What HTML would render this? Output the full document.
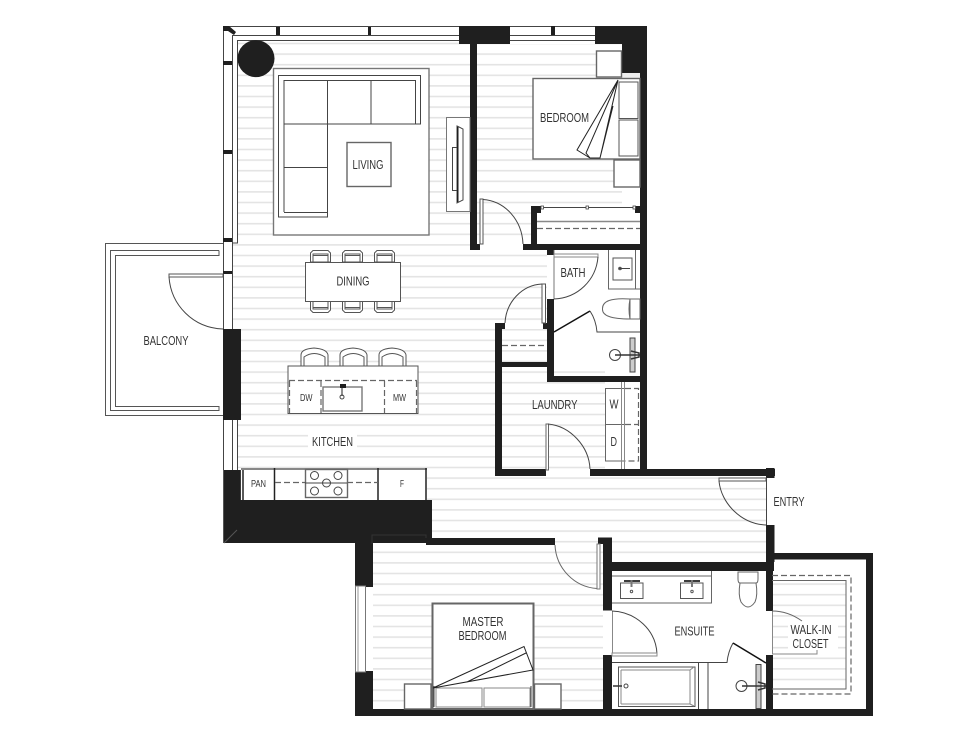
<!DOCTYPE html>
<html><head><meta charset="utf-8"><title>Floor plan</title>
<style>
html,body{margin:0;padding:0;background:#fff;width:978px;height:745px;overflow:hidden}
svg{display:block}
text{font-family:"Liberation Sans Narrow","Liberation Sans",sans-serif;font-size:12.5px;fill:#333;text-anchor:start}
.k{fill:#1f1f1f;stroke:none}
.l{fill:none;stroke:#444;stroke-width:1}
.t{fill:none;stroke:#222;stroke-width:1}
.g{fill:none;stroke:#777;stroke-width:1.5}
.w{fill:#fff;stroke:#555;stroke-width:1}
.wg{fill:#fff;stroke:#777;stroke-width:1.4}
.d{fill:none;stroke:#666;stroke-width:1.2;stroke-dasharray:6 3}
</style></head><body>
<svg width="978" height="745" viewBox="0 0 978 745" xmlns="http://www.w3.org/2000/svg">
<defs>
<pattern id="fl" x="0" y="0" width="978" height="10.6" patternUnits="userSpaceOnUse" patternTransform="translate(0,53.3)">
<rect x="0" y="0" width="978" height="10.6" fill="#fff"/>
<rect x="0" y="0" width="978" height="1.6" fill="#e4e4e4"/>
</pattern>
</defs>
<rect width="978" height="745" fill="#fff"/>
<path fill="url(#fl)" d="M237 41H470V244H477V250H547V323H495V476H766V562H603V545H426V500H427V468H237ZM232 240H237V329H232ZM477 44H622V206H531V244H477ZM502 329H547V362H502ZM502 367H605V470H502ZM373 545H603V709H373ZM772 580H846V689H772Z"/>

<!-- top window -->
<g class="l">
<path d="M223 26.5H459M237 40.5H459M232 35.500H459M510 26.5H595M510 35.5H595M510 40.5H595"/>
<path d="M223.5 26V240M232.5 35V240M237.5 40V243H232M223.5 240V329M232.5 240V329"/>
<path d="M223.5 420V470M232.5 420V470M237.5 420V470"/>
</g>
<path class="k" d="M223 26H229L236 32L234 35L228 31H223Z M276 27H280V35H276Z M368 27H371V35H368Z M551 26H555V35H551Z M223 61H232V65H223Z M223 150H232V154H223Z M223 238H232V242H223Z M223 271H232V274H223Z"/>
<circle cx="256" cy="58.6" r="18.5" fill="#1f1f1f"/>

<!-- walls -->
<path class="k" d="M459 26H510V44H477V244H480V250H470V44H459Z"/>
<path class="k" d="M595 26H647V476H640V78H622V44H595Z"/>
<rect x="622" y="73" width="18" height="5" fill="#eee"/>
<path class="k" d="M531 206H541V213H537V244H640V250H554V255H547V250H523V244H531Z"/>
<rect class="k" x="635" y="206" width="5" height="7"/>
<path class="k" d="M547 299H554V376H640V382H547Z"/>
<path class="k" d="M495 323H505V329H502V362H547V367H502V469H546V476H495Z"/>
<rect class="k" x="543" y="323" width="4" height="6"/>
<g class="k">
<rect x="590" y="469" width="185" height="7"/>
<rect x="766" y="468" width="8.500" height="10"/>
<rect x="766" y="525" width="8.500" height="37"/>
<rect x="766" y="553" width="107" height="6.500"/>
<rect x="866" y="553" width="7" height="163"/>
<rect x="355" y="709" width="518" height="7"/>
<rect x="603" y="562" width="171" height="9"/>
<rect x="603" y="537.500" width="9" height="73"/>
<rect x="598" y="537.500" width="14" height="6.500"/>
<rect x="766" y="562" width="7" height="49"/>
<rect x="603" y="655" width="9" height="61"/>
<rect x="766" y="655" width="7" height="61"/>
<rect x="355" y="671" width="18" height="45"/>
</g>
<path class="k" d="M223 470H241V500H432V538H555V545H426V543H373V587H355V543H223Z"/>
<path fill="none" stroke="#333" stroke-width="1" d="M372 544V535H426V538"/>
<path class="k" d="M223 329H241V420H223Z"/>
<path fill="none" stroke="#555" d="M223.500 470V543M224 543L237 530M241 470V500"/>

<!-- balcony -->
<g class="l" style="stroke:#555">
<path d="M223 243.5H105.5V415.5H223"/>
<path d="M219 250.5H110.5V410.5H219V406.5H115.5V255.5H219V250.5"/>
</g>
<rect x="169" y="274" width="54" height="3" fill="#fff" stroke="#555"/>
<path class="l" d="M169 277C171 305 193 328 223 329"/>
<text x="143.5" y="345" textLength="45" lengthAdjust="spacingAndGlyphs">BALCONY</text>

<!-- living -->
<rect class="wg" x="273.5" y="68.5" width="155.5" height="166.5"/>
<path class="l" d="M278.500 75.500H420.500V124H327.500V217H278.500Z"/>
<path class="l" d="M284 212V80.500H415.500V124M284 124H327.500M284 167.500H327.500M327.500 80.500V124M371 80.500V124M284 212.500H327.500"/>
<rect class="wg" x="347" y="142.500" width="44" height="44" style="stroke:#666"/>
<text x="352.500" y="169" textLength="31" lengthAdjust="spacingAndGlyphs">LIVING</text>
<rect class="w" x="446.500" y="117.500" width="23.500" height="94" style="stroke:#777"/>
<path class="l" d="M457 126L463 129V200L457 203ZM452.500 147.500H457V190.500H452.500Z"/>
<rect class="k" x="457" y="127" width="1.500" height="75"/>

<!-- dining -->
<g class="l" style="stroke:#555">
<path fill="#fff" d="M310.500 262V253L313 250.500H328L330.500 253V262ZM313 262V254H328V262M313 255.500H328"/>
<path fill="#fff" d="M342.500 262V253L345 250.500H360L362.500 253V262ZM345 262V254H360V262M345 255.500H360"/>
<path fill="#fff" d="M374.500 262V253L377 250.500H392L394.500 253V262ZM377 262V254H392V262M377 255.500H392"/>
<path fill="#fff" d="M310.500 301V310L313 312.500H328L330.500 310V301ZM313 301V309H328V301M313 307.500H328"/>
<path fill="#fff" d="M342.500 301V310L345 312.500H360L362.500 310V301ZM345 301V309H360V301M345 307.500H360"/>
<path fill="#fff" d="M374.500 301V310L377 312.500H392L394.500 310V301ZM377 301V309H392V301M377 307.500H392"/>
</g>
<rect class="w" x="305.500" y="262.500" width="95" height="39"/>
<text x="336.500" y="285.500" textLength="33" lengthAdjust="spacingAndGlyphs">DINING</text>

<!-- island -->
<g class="w">
<path d="M301 366V355Q301 349 314 348Q327 349 328 355V366ZM304 366V357Q314 350 325 357V366"/>
<path d="M340 366V355Q340 349 353 348Q366 349 367 355V366ZM343 366V357Q353 350 364 357V366"/>
<path d="M379 366V355Q379 349 392 348Q405 349 406 355V366ZM382 366V357Q392 350 403 357V366"/>
</g>
<rect class="w" x="288" y="366" width="130" height="47.500"/>
<path class="d" d="M289 380.500H417M289.500 381V413M321 381V413M384.500 381V413M416.500 381V413"/>
<rect class="wg" x="323" y="387" width="39" height="24"/>
<rect class="k" x="340" y="384" width="6" height="4"/>
<path class="t" d="M342 386V396"/><circle class="l" cx="342" cy="397" r="2"/>
<text x="300" y="401" textLength="12.500" lengthAdjust="spacingAndGlyphs" style="font-size:10px">DW</text>
<text x="393" y="401" textLength="13" lengthAdjust="spacingAndGlyphs" style="font-size:10px">MW</text>
<rect x="308" y="434" width="49" height="14" fill="#fff"/>
<text x="312" y="446" textLength="41" lengthAdjust="spacingAndGlyphs">KITCHEN</text>

<!-- counter -->
<rect x="241" y="468" width="186" height="32" fill="#fff"/>
<path fill="none" stroke="#888" stroke-width="2" d="M241 469H427"/>
<path fill="none" stroke="#222" stroke-width="1.500" d="M274.500 468V500M378 468V500M426 468V500M243 470V500"/>
<path class="d" d="M275 482.500H378"/>
<rect class="wg" x="305.500" y="469.500" width="42" height="28" style="stroke:#666"/>
<g class="l"><circle cx="314.500" cy="475.500" r="4"/><circle cx="338" cy="475.500" r="4"/><circle cx="314.500" cy="491" r="4"/><circle cx="338" cy="491" r="4"/><path d="M305 483H347"/><circle cx="326.500" cy="483" r="4" fill="#fff"/><path d="M322 483H331"/></g>
<text x="251" y="487" textLength="15" lengthAdjust="spacingAndGlyphs" style="font-size:10.500px">PAN</text>
<text x="400" y="487" textLength="4" lengthAdjust="spacingAndGlyphs" style="font-size:10.500px">F</text>

<!-- bedroom -->
<rect class="wg" x="596.500" y="51" width="25" height="26" style="stroke:#666"/>
<rect class="wg" x="614" y="160" width="26" height="27" style="stroke:#666"/>
<rect class="wg" x="533" y="78.500" width="107" height="80.500" style="stroke:#666"/>
<rect class="w" x="619" y="82" width="19" height="36.500"/>
<rect class="w" x="619" y="120" width="19" height="36"/>
<path class="t" d="M618 80L577 150L590 158M618 80L586 153L590 158H600L618 80M613 106L600 158"/>
<text x="540" y="122" textLength="49" lengthAdjust="spacingAndGlyphs">BEDROOM</text>
<rect x="480" y="199" width="3" height="45" fill="#fff" stroke="#555"/>
<path class="l" d="M483 199.500C505 201 522 220 523 244"/>
<path class="l" d="M541 207.500H635"/>
<g fill="#fff" stroke="#444" stroke-width=".8"><rect x="541" y="206" width="2.500" height="3"/><rect x="586" y="206" width="2.500" height="3"/><rect x="633" y="206" width="2.500" height="3"/></g>
<path fill="none" stroke="#888" stroke-width="1.500" d="M537 221.500H640"/>
<path class="d" d="M537 228.500H640"/>

<!-- closet door -->
<rect x="542" y="284" width="3.500" height="39" fill="#fff" stroke="#555"/>
<path class="l" d="M542 284C522 285 506 302 505 323"/>
<path class="d" d="M502 345.500H547"/>

<!-- bath -->
<path class="l" d="M554 250V299" style="stroke:#777"/>
<rect x="554" y="254" width="44" height="3" fill="#fff" stroke="#888"/>
<path class="l" d="M598 257C596 280 578 298 554 299"/>
<text x="560.500" y="277" textLength="25" lengthAdjust="spacingAndGlyphs">BATH</text>
<path class="g" style="stroke:#666;stroke-width:1" d="M608.500 250V289H640M635.500 250V289"/>
<rect class="l" x="613" y="258" width="19" height="22" style="stroke:#555"/>
<path class="l" d="M619 268.500H630"/><circle class="l" cx="620" cy="268.500" r="1.300"/>
<path class="l" d="M630 299Q602 297 602.500 309Q602 319 630 319ZM630 299H640V319H630Q628 309 630 299Z" style="stroke:#666"/>
<path fill="none" stroke="#111" stroke-width="1.500" d="M554 332L590 311"/>
<path class="l" d="M590 311Q596 320 597 332H640"/>
<rect x="630" y="338" width="5" height="34" fill="#ccc" stroke="#444"/>
<circle class="l" cx="615" cy="355" r="5.500"/>
<path fill="none" stroke="#333" stroke-width="1.500" d="M615 355H640M631 351L639 353V357L631 359"/>

<!-- laundry -->
<rect class="w" x="605.500" y="388.500" width="19.500" height="36" style="stroke:#666"/>
<rect class="w" x="605.500" y="424.500" width="19.500" height="36.500" style="stroke:#666"/>
<rect x="625" y="382" width="15" height="87" fill="#fff"/>
<path class="d" d="M625 388.500H638.500V461H625M625 424.500H638.500"/>
<path fill="none" stroke="#888" d="M621.500 382V469M624.500 382V469"/>
<text x="532" y="409" textLength="45.500" lengthAdjust="spacingAndGlyphs">LAUNDRY</text>
<text x="609.500" y="408.500" textLength="9" lengthAdjust="spacingAndGlyphs">W</text>
<text x="610.500" y="446" textLength="6.500" lengthAdjust="spacingAndGlyphs">D</text>
<rect x="546" y="424" width="2.500" height="46" fill="#fff" stroke="#666"/>
<path class="l" d="M548 424C570 426 589 446 590 469"/>

<!-- entry -->
<rect x="719" y="478" width="47" height="3" fill="#fff" stroke="#555"/>
<path class="l" d="M719 481C721 503 741 524 766 525M766.500 478V525"/>
<text x="773.500" y="506" textLength="31" lengthAdjust="spacingAndGlyphs">ENTRY</text>

<!-- ensuite -->
<path class="l" d="M612 576H711.500V603H612M711.500 571V576" style="stroke:#666"/>
<g class="l" style="stroke:#555">
<rect x="620.500" y="583" width="22.500" height="15.500"/><rect x="680.500" y="583" width="22.500" height="15.500"/>
<circle cx="631.500" cy="591.500" r="1.200"/><circle cx="692" cy="591.500" r="1.200"/></g>
<path fill="none" stroke="#222" stroke-width="1.800" d="M624 581H640M684 581H700"/>
<path fill="none" stroke="#777" stroke-width="2" d="M631.500 580V587M692 580V587"/>
<path class="l" d="M738 572H758V579Q758 583 756 583H740Q738 583 738 579Z" style="stroke:#666"/>
<path class="l" d="M740 583Q738 595 741 602Q748 612 755 602Q758 595 756 583" style="stroke:#666"/>
<path class="l" d="M612.500 611V655" style="stroke:#888"/>
<path class="l" d="M612 611C636 612 656 630 657 654"/>
<rect x="612" y="653" width="45" height="3" fill="#fff" stroke="#888"/>
<text x="674.500" y="635.500" textLength="40" lengthAdjust="spacingAndGlyphs">ENSUITE</text>
<path class="l" d="M612 662.500H727Q728 652 733 643"/>
<path fill="none" stroke="#111" stroke-width="1.500" d="M733 643L766 663"/>
<path class="l" d="M698.500 663V709M708 663V709"/>
<rect x="618.500" y="667" width="76.500" height="39.500" class="l" style="stroke:#555"/>
<path class="l" d="M621 670H690L694 667M621 704H690L694 706M690 670V704M621 670V704" style="stroke:#888"/>
<path fill="none" stroke="#333" stroke-width="1.500" d="M613 686H622"/>
<circle class="l" cx="626" cy="686" r="2"/>
<rect x="756" y="664.500" width="5" height="44" fill="#ccc" stroke="#444"/>
<circle class="l" cx="741.500" cy="686" r="5.500"/>
<path fill="none" stroke="#333" stroke-width="1.500" d="M742 686H766M758 682L765 684V688L758 690"/>

<!-- walk-in -->
<path class="d" d="M772 575.500H851V694H772"/>
<path class="l" d="M772 580.500H846V689H772" style="stroke:#666"/>
<path class="l" d="M772 611Q788 611 802 621" style="stroke:#666"/>
<path fill="none" stroke="#888" d="M772 654H817V650M772.500 611.500V654"/>
<rect x="788" y="624" width="50" height="26" fill="#fff"/>
<text x="790.500" y="634" textLength="41" lengthAdjust="spacingAndGlyphs">WALK-IN</text>
<text x="792.500" y="648" textLength="36" lengthAdjust="spacingAndGlyphs">CLOSET</text>

<!-- master -->
<rect x="355.500" y="586" width="10" height="86" fill="#fff" stroke="#777"/>
<path class="l" d="M358 586V672" style="stroke:#999"/>
<path fill="none" stroke="#666" stroke-width="1" d="M555 545C556 568 574 587 597 588.500"/>
<rect x="597" y="544" width="3" height="45" fill="#fff" stroke="#777"/>
<rect class="wg" x="404.500" y="684" width="26.500" height="25" style="stroke:#666"/>
<rect class="wg" x="534.500" y="684" width="26.500" height="25" style="stroke:#666"/>
<rect x="432.500" y="603.500" width="101" height="105.500" fill="#fff" stroke="#666" stroke-width="2"/>
<path class="l" d="M434 686V707M531 686V707"/>
<rect class="w" x="436" y="688" width="46" height="19" style="stroke:#888"/>
<rect class="w" x="484" y="688" width="46" height="19" style="stroke:#888"/>
<path class="t" d="M433 688L524 646.500L533 670L433 688M467 682L526 653"/>
<text x="462.500" y="626" textLength="41" lengthAdjust="spacingAndGlyphs">MASTER</text>
<text x="458.500" y="640" textLength="48" lengthAdjust="spacingAndGlyphs">BEDROOM</text>
</svg>
</body></html>
